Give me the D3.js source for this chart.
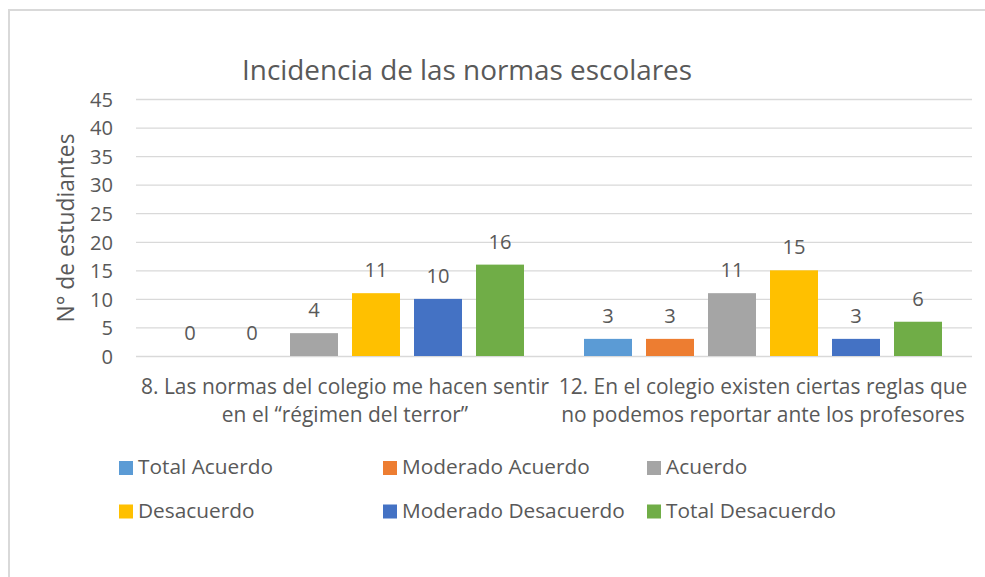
<!DOCTYPE html>
<html lang="es">
  <head>
    <meta charset="UTF-8" />
    <title>Incidencia de las normas escolares</title>
    <style>
      body {
        margin: 0;
        background-color: #fff;
      }
      svg {
        display: block;
        font-family: "Open Sans", Lato, sans-serif;
      }
      text {
        fill: #595959;
      }
    </style>
  </head>
  <body>
    <div class="container"></div>

    <script src="https://d3js.org/d3.v7.min.js"></script>
    <script>
      // data
      const categories = [
        ["8. Las normas del colegio me hacen sentir", "en el “régimen del terror”"],
        ["12. En el colegio existen ciertas reglas que", "no podemos reportar ante los profesores"]
      ];
      const series = ["Total Acuerdo", "Moderado Acuerdo", "Acuerdo",
                      "Desacuerdo", "Moderado Desacuerdo", "Total Desacuerdo"];
      const values = [
        [0, 0, 4, 11, 10, 16],
        [3, 3, 11, 15, 3, 6]
      ];
      const colors = ["#5B9BD5", "#ED7D31", "#A5A5A5", "#FFC000", "#4472C4", "#70AD47"];
      const yTicks = [0, 5, 10, 15, 20, 25, 30, 35, 40, 45];

      const w = 985, h = 577;
      const plotLeft = 136, plotRight = 972, plotTop = 99, plotBottom = 356;

      const svg = d3.select(".container")
                    .append("svg")
                    .attr("width", w)
                    .attr("height", h);

      // pick a font size so that a sample string gets the width seen in the picture
      const fitSize = (str, width) => {
        const t = svg.append("text").text(str).style("font-size", "100px");
        const len = t.node().getComputedTextLength();
        t.remove();
        return (100 * width / len).toFixed(2) + "px";
      };
      const tickSize = fitSize("45", 23);
      const catSize = fitSize(categories[0][0], 408);
      const legSize = fitSize("Total Acuerdo", 135);
      const titleSize = fitSize("Incidencia de las normas escolares", 450);
      const axisTitleSize = fitSize("N° de estudiantes", 189);

      // chart frame
      svg.append("rect")
         .attr("x", 9).attr("y", 10)
         .attr("width", w + 10).attr("height", h + 10)
         .style("fill", "none").style("stroke", "#d9d9d9").style("stroke-width", 2);

      const x0 = d3.scaleBand()
                   .domain(d3.range(categories.length))
                   .range([plotLeft, plotRight]);

      const x1 = d3.scaleBand()
                   .domain(series)
                   .range([23, x0.bandwidth() - 23])
                   .paddingInner(0.226)
                   .paddingOuter(0.113);

      const yScale = d3.scaleLinear()
                       .domain([0, 45])
                       .range([plotBottom, plotTop]);

      // gridlines + tick labels
      const yAxis = d3.axisLeft(yScale)
                      .tickValues(yTicks)
                      .tickSize(-(plotRight - plotLeft))
                      .tickPadding(23);

      const gy = svg.append("g")
                    .attr("transform", "translate(" + plotLeft + ",0)")
                    .call(yAxis);
      gy.select(".domain").remove();
      gy.selectAll(".tick line").style("stroke", "#d9d9d9").style("stroke-width", 1.3);
      gy.selectAll(".tick text")
        .style("font-size", tickSize)
        .style("font-family", "'Open Sans', Lato, sans-serif")
        .style("fill", "#595959")
        .attr("dy", "0.36em");

      // bars
      const groups = svg.selectAll(".grp")
                        .data(values)
                        .enter().append("g")
                        .attr("class", "grp")
                        .attr("transform", (d, i) => "translate(" + x0(i) + ",0)");

      groups.selectAll("rect")
            .data(d => d.map((v, j) => ({ v: v, s: series[j], c: colors[j] })))
            .enter().append("rect")
            .attr("x", d => x1(d.s))
            .attr("width", x1.bandwidth())
            .attr("y", d => yScale(d.v))
            .attr("height", d => plotBottom - yScale(d.v))
            .style("fill", d => d.c);

      groups.selectAll(".val")
            .data(d => d.map((v, j) => ({ v: v, s: series[j] })))
            .enter().append("text")
            .attr("class", "val")
            .text(d => d.v)
            .attr("x", d => x1(d.s) + x1.bandwidth() / 2)
            .attr("y", d => yScale(d.v) - 16)
            .attr("text-anchor", "middle")
            .style("font-size", tickSize);

      // category labels
      svg.selectAll(".cat")
         .data(categories)
         .enter().append("text")
         .attr("class", "cat")
         .attr("text-anchor", "middle")
         .style("font-size", catSize)
         .attr("transform", (d, i) => "translate(" + (x0(i) + x0.bandwidth() / 2) + ",394)")
         .selectAll("tspan")
         .data(d => d)
         .enter().append("tspan")
         .attr("x", 0)
         .attr("y", (d, i) => i * 28)
         .text(d => d);

      // titles
      svg.append("text")
         .text("Incidencia de las normas escolares")
         .attr("x", 467).attr("y", 80)
         .attr("text-anchor", "middle")
         .style("font-size", titleSize);

      svg.append("text")
         .text("N° de estudiantes")
         .attr("transform", "translate(74,228) rotate(-90)")
         .attr("text-anchor", "middle")
         .style("font-size", axisTitleSize);

      // legend
      const legend = svg.selectAll(".leg")
                        .data(series)
                        .enter().append("g")
                        .attr("class", "leg")
                        .attr("transform", (d, i) =>
                          "translate(" + (119 + (i % 3) * 264) + "," + (461 + Math.floor(i / 3) * 43.5) + ")");

      legend.append("rect")
            .attr("width", 14).attr("height", 14)
            .style("fill", (d, i) => colors[i]);

      legend.append("text")
            .text(d => d)
            .attr("x", 19).attr("y", 13)
            .style("font-size", legSize);
    </script>
  </body>
</html>
